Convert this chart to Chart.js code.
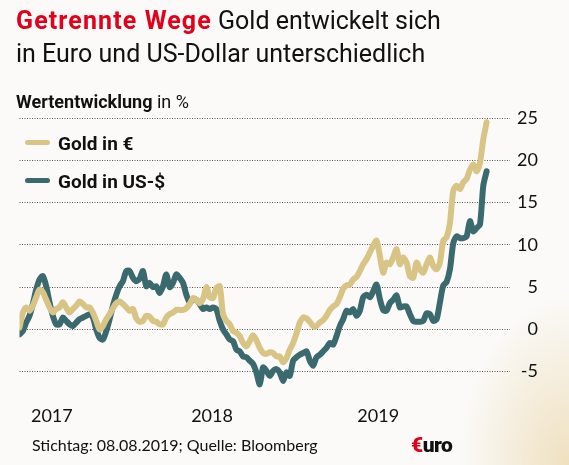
<!DOCTYPE html>
<html lang="de">
<head>
<meta charset="utf-8">
<title>Getrennte Wege</title>
<script src="https://cdn.jsdelivr.net/npm/chart.js@4.4.1/dist/chart.umd.min.js"></script>
<style>
  html, body { margin: 0; padding: 0; }
  body {
    width: 569px; height: 465px; position: relative; overflow: hidden;
    background: #fbfaf8; font-family: Roboto, sans-serif; color: #111;
  }
  .bg {
    position: absolute; left: 0; top: 0; width: 569px; height: 465px;
    background: radial-gradient(ellipse 110px 170px at 569px 465px, rgba(224, 192, 122, 0.45), rgba(224, 192, 122, 0));
  }
  .wrap { position: absolute; left: 0; top: 0; width: 569px; height: 465px; }
  .title { position: absolute; left: 16px; top: 4px; font-size: 25px; line-height: 33px; white-space: nowrap; }
  .title b { color: #e2001a; letter-spacing: 1.1px; }
  .unit { position: absolute; left: 16px; top: 93px; font-size: 18px; line-height: 18px; }
  .legend { position: absolute; left: 25px; font-size: 19px; line-height: 19px; font-weight: bold; white-space: nowrap; }
  .legend i {
    display: inline-block; width: 25px; height: 5px; border-radius: 3px;
    margin-right: 8px; vertical-align: 5px;
  }
  .footer { position: absolute; left: 32px; top: 437px; font-family: Lato, sans-serif; font-size: 16px; line-height: 16px; }
  .logo { position: absolute; left: 411px; top: 435px; font-size: 21px; line-height: 21px; font-weight: 900; letter-spacing: -0.5px; }
  .logo span { color: #e2001a; }
</style>
</head>
<body>
<div class="bg"></div>
<div class="wrap"><canvas id="goldchart"></canvas></div>

<div class="title"><b>Getrennte Wege</b> Gold entwickelt sich<br>in Euro und US-Dollar unterschiedlich</div>
<div class="unit"><b>Wertentwicklung</b> in %</div>
<div class="legend" style="top:134px"><i style="background:#d8c585"></i>Gold in €</div>
<div class="legend" style="top:172px"><i style="background:#3b6a6e"></i>Gold in US-$</div>
<div class="footer">Stichtag: 08.08.2019; Quelle: Bloomberg</div>
<div class="logo"><span>€</span>uro</div>

<script>
"use strict";

/* Wertentwicklung in %, Gold in Euro */
var goldEur = [
    0.2, 2.0, 2.6, 2.2, 2.8, 3.8, 4.7, 4.4, 3.5, 2.6,
    2.0, 2.4, 2.6, 3.2, 2.6, 2.0, 2.4, 2.8, 3.3, 3.0,
    2.6, 2.6, 2.0, 1.0, 0.0, 0.4, 1.2, 1.8, 2.5, 3.1,
    3.3, 3.0, 2.6, 2.2, 2.4, 1.3, 0.9, 1.0, 1.6, 1.5,
    1.0, 0.9, 0.6, 0.6, 1.4, 1.8, 2.0, 2.3, 2.3, 2.3,
    2.5, 3.0, 3.7, 3.5, 3.1, 3.6, 5.0, 3.8, 3.7, 4.9,
    5.1, 1.8, 1.0, 0.6, -0.2, -0.4, -0.8, -1.6, -2.0, -1.4,
    -0.7, -1.3, -2.2, -2.8, -2.9, -2.7, -2.8, -3.2, -3.2, -3.9,
    -3.4, -2.4, -1.6, -0.5, 0.8, 1.4, 1.3, 0.9, 0.4, 0.4,
    0.8, 1.1, 1.6, 2.3, 2.7, 3.0, 3.8, 4.8, 5.2, 5.3,
    5.9, 6.2, 6.9, 7.7, 8.3, 9.1, 9.9, 10.5, 8.7, 6.7,
    7.9, 7.7, 8.5, 9.5, 7.7, 8.5, 7.9, 6.3, 6.1, 7.9,
    7.1, 6.7, 7.7, 8.5, 7.5, 7.1, 7.9, 10.5, 10.9, 12.6,
    16.4, 17.0, 16.6, 17.4, 17.8, 18.9, 19.5, 18.7, 19.7, 22.5,
    24.5
];

/* Wertentwicklung in %, Gold in US-Dollar */
var goldUsd = [
    -0.6, -0.2, 0.8, 1.6, 3.0, 4.7, 5.9, 6.3, 5.1, 3.2,
    1.6, 0.6, 0.6, 1.4, 1.0, 0.6, 0.4, 0.8, 1.2, 1.4,
    1.6, 1.8, 1.4, 0.0, -1.0, -1.2, -0.2, 1.2, 2.8, 4.1,
    5.1, 5.7, 6.9, 6.9, 6.1, 5.7, 6.0, 6.9, 5.1, 5.5,
    5.0, 5.1, 4.3, 5.1, 6.5, 5.0, 5.5, 6.5, 6.1, 5.5,
    4.1, 3.2, 3.5, 3.5, 3.0, 2.4, 2.6, 2.4, 2.6, 2.4,
    1.0, 0.0, -0.6, -1.2, -1.4, -2.4, -2.6, -3.2, -3.3, -3.7,
    -4.1, -5.1, -6.5, -4.5, -4.9, -5.5, -4.9, -4.7, -5.1, -6.1,
    -5.1, -5.5, -3.7, -3.3, -3.0, -2.8, -2.6, -3.7, -4.3, -3.3,
    -3.0, -2.6, -2.2, -1.6, -1.8, -0.8, 0.4, 1.2, 2.2, 2.0,
    2.4, 1.6, 2.2, 3.8, 4.1, 3.8, 4.5, 5.3, 3.6, 2.3,
    2.2, 3.1, 3.5, 4.0, 2.6, 2.7, 2.7, 1.8, 1.0, 0.9,
    0.9, 1.0, 1.9, 1.8, 1.0, 1.2, 3.2, 5.2, 5.6, 7.1,
    10.2, 11.0, 10.8, 10.8, 11.0, 12.8, 11.6, 12.0, 12.4, 17.0,
    18.7
];

/* axis ticks */
var yTicks = [-5, 0, 5, 10, 15, 20, 25];
var yearNames = ['2017', '2018', '2019'];
var yearTickPos = [9.7, 57.7, 107.5];

var eurColor = '#d8c585';
var usdColor = '#3b6a6e';

function toPoints(values) {
    return values.map(function (v, i) { return { x: i, y: v }; });
}

var goldCtx = document.getElementById('goldchart').getContext('2d');
var goldConfig = {
    type: 'line',
    data: {
        datasets: [{
            label: 'Gold in €',
            data: toPoints(goldEur),
            borderColor: eurColor,
            borderWidth: 6,
            pointRadius: 0,
            tension: 0.25,
            borderCapStyle: 'round',
            borderJoinStyle: 'round',
            fill: false,
        }, {
            label: 'Gold in US-$',
            data: toPoints(goldUsd),
            borderColor: usdColor,
            borderWidth: 6,
            pointRadius: 0,
            tension: 0.25,
            borderCapStyle: 'round',
            borderJoinStyle: 'round',
            fill: false,
        }]
    },
    options: {
        responsive: true,
        maintainAspectRatio: false,
        animation: false,
        layout: {
            padding: { left: 19.5, right: 31, top: 118, bottom: 38 }
        },
        plugins: {
            legend: { display: false },
            tooltip: { enabled: false },
        },
        scales: {
            x: {
                type: 'linear',
                min: 0,
                max: 147,
                grid: { display: false },
                border: { display: false },
                afterFit: function (axis) { axis.height = 30; },
                afterBuildTicks: function (axis) {
                    axis.ticks = yearTickPos.map(function (v) { return { value: v }; });
                },
                ticks: {
                    padding: 0,
                    autoSkip: false,
                    maxRotation: 0,
                    color: '#111',
                    font: { family: 'Lato', size: 18 },
                    callback: function (value, index) { return yearNames[index]; }
                }
            },
            y: {
                position: 'right',
                min: -8,
                max: 25,
                afterFit: function (axis) { axis.width = 28; },
                afterBuildTicks: function (axis) {
                    axis.ticks = yTicks.map(function (v) { return { value: v }; });
                },
                grid: { color: '#555', lineWidth: 1, drawTicks: false },
                border: { display: false, dash: [1, 1.5] },
                ticks: {
                    padding: 6,
                    crossAlign: 'far',
                    color: '#111',
                    font: { family: 'Lato', size: 18 },
                    callback: function (value) { return String(value); }
                }
            }
        }
    }
};
var goldChart = new Chart(goldCtx, goldConfig);
</script>
</body>
</html>
